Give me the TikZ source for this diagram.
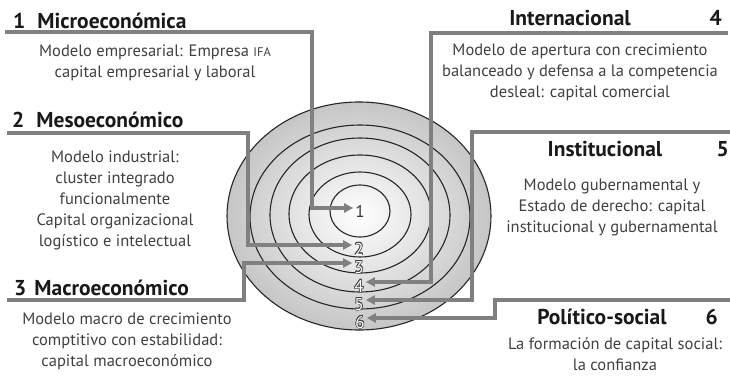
\documentclass[tikz,border=0pt]{standalone}
\usepackage{fontspec}
\setmainfont{PT Sans}
\usepackage{contour}
\usepackage{tikz}
\usetikzlibrary{arrows.meta}
\usetikzlibrary{positioning}
\contourlength{0.6pt}
\colorlet{discedge}{black!45}
\pgfdeclareradialshading{disc}{\pgfpoint{0bp}{0bp}}{color(0bp)=(white); color(50bp)=(discedge)}
\newcommand{\headfont}{\fontsize{21.5}{24}\selectfont\bfseries}
\newcommand{\bodyfont}{\fontsize{16.5}{21}\selectfont}
\newcommand{\ifafont}{\fontsize{12.5}{21}\selectfont}
\tikzset{head/.style={font=\headfont, text=black!90, inner sep=0pt},
	body/.style={font=\bodyfont, text=black!75, align=center, inner sep=0pt},
	ring/.style={draw=black!85, line width=1.1pt},
	link/.style={draw=black!50, line width=3.5pt, line join=miter},
	num/.style={font=\fontsize{17}{20}\selectfont, text height=20pt, text depth=0pt, inner sep=2pt},
	wnum/.style={num, text=white}}

\begin{document}
\begin{tikzpicture}[x=1pt, y=-1pt, >={Triangle[length=9pt, width=9pt]}]
		\useasboundingbox (0,0) rectangle (730,379);
		
		% disc with rings
		\shade[shading=disc, draw=black!85, line width=1.1pt] (359,216) ellipse [x radius=132, y radius=114];
		\draw[ring] (360,217) ellipse [x radius=110, y radius=92];
		\draw[ring] (360,215) ellipse [x radius=90, y radius=77];
		\draw[ring] (360,214) ellipse [x radius=71, y radius=59];
		\draw[ring] (360,214.5) ellipse [x radius=51, y radius=42.5];
		\draw[ring] (360,211) ellipse [x radius=30, y radius=26];
		
		\node[num, text=black!80] (n1) at (360,208) {1};
		\node[wnum] (n2) at (359,245) {\contour{black!75}{2}};
		\node[wnum] (n3) at (359,263) {\contour{black!75}{3}};
		\node[wnum] (n4) at (359,282) {\contour{black!75}{4}};
		\node[wnum] (n5) at (359,300) {\contour{black!75}{5}};
		\node[wnum] (n6) at (360,318) {\contour{black!75}{6}};
		
		% left blocks (base = last line)
		\node[head, anchor=base west] (h1) at (13,29) {1\hspace{12pt}Microeconómica};
		\node[body, anchor=base] (b1) at (155,78) {Modelo empresarial: Empresa {\ifafont IFA}\\capital empresarial y laboral};
		\node[head, anchor=base west] (h2) at (12,128) {2\hspace{12pt}Mesoeconómico};
		\node[body, anchor=base] (b2) at (115,247) {Modelo industrial:\\cluster integrado\\funcionalmente\\Capital organizacional\\logístico e intelectual};
		\node[head, anchor=base west] (h3) at (14,295) {3\hspace{8pt}Macroeconómico};
		\node[body, anchor=base] (b3) at (127,366) {Modelo macro de crecimiento\\comptitivo con estabilidad:\\capital macroeconómico};
		
		% right blocks
		\node[head, anchor=base] (h4) at (570,26) {Internacional};
		\node[head, anchor=base east] (m4) at (722,26) {4};
		\node[body, anchor=base] (b4) at (580,98) {Modelo de apertura con crecimiento\\balanceado y defensa a la competencia\\desleal: capital comercial};
		\node[head, anchor=base] (h5) at (605,157) {Institucional};
		\node[head, anchor=base east] (m5) at (729,157) {5};
		\node[body, anchor=base] (b5) at (612,233) {Modelo gubernamental y\\Estado de derecho: capital\\institucional y gubernamental};
		\node[head, anchor=base] (h6) at (602,324) {Político-social};
		\node[head, anchor=base east] (m6) at (718,324) {6};
		\node[body, anchor=base] (b6) at (615,370) {La formación de capital social:\\la confianza};
		
		% connectors
		\coordinate (s1) at (5,32);    \coordinate (k1) at (312,32);
		\coordinate (s2) at (7,133);   \coordinate (k2) at (248,133);
		\coordinate (s3) at (7,300);   \coordinate (k3) at (244,300);
		\coordinate (s4) at (728,33);  \coordinate (k4) at (431,33);
		\coordinate (s5) at (730,132); \coordinate (k5) at (472,132);
		\coordinate (s6) at (730,300); \coordinate (k6) at (495,300);
		\draw[link, ->] (s1) -- (k1) |- (n1);
		\draw[link, ->] (s2) -- (k2) |- (n2);
		\draw[link, ->] (s3) -- (k3) |- (n3);
		\draw[link, ->] (s4) -- (k4) |- (n4);
		\draw[link, ->] (s5) -- (k5) |- (n5);
		\draw[link, ->] (s6) -- (k6) |- (n6);
	\end{tikzpicture}
\end{document}
